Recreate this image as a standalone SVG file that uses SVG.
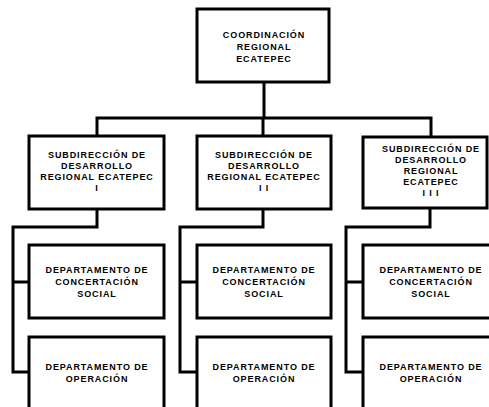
<svg xmlns="http://www.w3.org/2000/svg" width="489" height="407" viewBox="0 0 489 407">
<style>
.box{fill:#fff;stroke:#000;stroke-width:3}
.ln{fill:none;stroke:#000;stroke-width:3;stroke-linejoin:miter;stroke-linecap:square}
text{font-family:"Liberation Sans",Arial,sans-serif;font-weight:bold;font-size:9px;letter-spacing:0.9px;text-anchor:middle;fill:#000}
</style>
<rect width="489" height="407" fill="#fff"/>
<g id="connectors">
<path class="ln" d="M264 82V118M97 118H431M97 118V136M263 118V136M431 118V136"/>
<path class="ln" d="M97 209V227H13V372H29M13 282H29"/>
<path class="ln" d="M263 209V227H180V372H197M180 282H197"/>
<path class="ln" d="M430 208V227H346V372H363M346 282H363"/>
</g>
<g id="coord">
<rect class="box" x="197" y="9" width="132" height="73"/>
<text x="264" y="38.3">COORDINACIÓN</text>
<text x="264" y="50">REGIONAL</text>
<text x="264" y="61.7">ECATEPEC</text>
</g>
<g id="sub1">
<rect class="box" x="29" y="136" width="135" height="73"/>
<text x="97" y="158.3">SUBDIRECCIÓN DE</text>
<text x="97" y="169.3">DESARROLLO</text>
<text x="97" y="180">REGIONAL ECATEPEC</text>
<text x="97" y="190.7">I</text>
</g>
<g id="sub2">
<rect class="box" x="197" y="136" width="134" height="73"/>
<text x="264" y="158.3">SUBDIRECCIÓN DE</text>
<text x="264" y="169.3">DESARROLLO</text>
<text x="264" y="180">REGIONAL ECATEPEC</text>
<text x="264" y="190.7">I I</text>
</g>
<g id="sub3">
<rect class="box" x="363" y="137" width="124" height="71"/>
<text x="431" y="151.7">SUBDIRECCIÓN DE</text>
<text x="431" y="163">DESARROLLO</text>
<text x="431" y="174.3">REGIONAL</text>
<text x="431" y="185.3">ECATEPEC</text>
<text x="431" y="196.3">I I I</text>
</g>
<g id="dep1a">
<rect class="box" x="29" y="245" width="135" height="73"/>
<text x="97" y="273.3">DEPARTAMENTO DE</text>
<text x="97" y="285">CONCERTACIÓN</text>
<text x="97" y="296.7">SOCIAL</text>
</g>
<g id="dep1b">
<rect class="box" x="29" y="337" width="135" height="90"/>
<text x="97" y="370">DEPARTAMENTO DE</text>
<text x="97" y="381.7">OPERACIÓN</text>
</g>
<g id="dep2a">
<rect class="box" x="197" y="245" width="134" height="73"/>
<text x="264" y="273.3">DEPARTAMENTO DE</text>
<text x="264" y="285">CONCERTACIÓN</text>
<text x="264" y="296.7">SOCIAL</text>
</g>
<g id="dep2b">
<rect class="box" x="197" y="337" width="134" height="90"/>
<text x="264" y="370">DEPARTAMENTO DE</text>
<text x="264" y="381.7">OPERACIÓN</text>
</g>
<g id="dep3a">
<rect class="box" x="363" y="245" width="134" height="73"/>
<text x="431" y="273.3">DEPARTAMENTO DE</text>
<text x="431" y="285">CONCERTACIÓN</text>
<text x="431" y="296.7">SOCIAL</text>
</g>
<g id="dep3b">
<rect class="box" x="363" y="337" width="134" height="90"/>
<text x="431" y="370">DEPARTAMENTO DE</text>
<text x="431" y="381.7">OPERACIÓN</text>
</g>
</svg>
